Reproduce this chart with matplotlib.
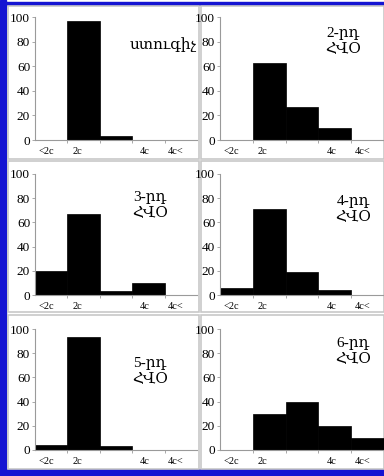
import matplotlib
matplotlib.use("Agg")
import matplotlib.pyplot as plt
from matplotlib.patches import Rectangle

# bins: <2c, 2c, (3c), 4c, 4c<
bin_labels = ["<2c", "2c", "4c", "4c<"]
label_pos = [0.35, 1.3, 3.4, 4.35]

control = [0, 97, 3, 0, 0]
gen2 = [0, 63, 27, 10, 0]
gen3 = [20, 67, 3, 10, 0]
gen4 = [6, 71, 19, 4, 0]
gen5 = [4, 93, 3, 0, 0]
gen6 = [0, 30, 40, 20, 10]

titles = ["ստուգիչ", "2-րդ\nՀՎՕ", "3-րդ\nՀՎՕ", "4-րդ\nՀՎՕ", "5-րդ\nՀՎՕ", "6-րդ\nՀՎՕ"]
series = [control, gen2, gen3, gen4, gen5, gen6]

serif = ["Liberation Serif", "DejaVu Serif"]
W, H = 384, 476

fig = plt.figure(figsize=(W / 100, H / 100), dpi=100)

# blue frame
fig.patches.append(Rectangle((0, 0), 6 / W, 1, transform=fig.transFigure, color="#1414d2", zorder=-2))
fig.patches.append(Rectangle((0, 1 - 5 / H), 1, 3 / H, transform=fig.transFigure, color="#1414d2", zorder=-2))
fig.patches.append(Rectangle((0, 0), 1, 7 / H, transform=fig.transFigure, color="#1414d2", zorder=-2))

# panel boxes (pixels from top-left)
col_px = [(8, 199), (201, 384)]
row_px = [(6, 159), (161, 312), (315, 469)]
for (ya, yb) in row_px:
    for (xa, xb) in col_px:
        fig.patches.append(Rectangle((xa / W, 1 - yb / H), (xb - xa) / W, (yb - ya) / H,
                                     transform=fig.transFigure, facecolor="white",
                                     edgecolor="#c8c8c8", lw=1.2, zorder=-1))

ax_left = [35, 220]
ax_width = [162, 164]
ax_rows = [(17, 140), (174, 295), (329, 450)]
text_xy = [(163, 45), (343, 42), (150, 206), (353, 209), (150, 372), (353, 352)]

for i, vals in enumerate(series):
    r, c = divmod(i, 2)
    top, bot = ax_rows[r]
    ax = fig.add_axes([ax_left[c] / W, 1 - bot / H, ax_width[c] / W, (bot - top) / H])
    ax.set_zorder(1)
    ax.bar(range(5), vals, width=1.0, align="edge", color="black", edgecolor="black", lw=0.5)
    ax.set_xlim(0, 5)
    ax.set_ylim(0, 100)
    ax.set_facecolor("none")
    for s in ["top", "right"]:
        ax.spines[s].set_visible(False)
    for s in ["left", "bottom"]:
        ax.spines[s].set_color("#9a9a9a")
        ax.spines[s].set_linewidth(0.8)
    ax.set_yticks([0, 20, 40, 60, 80, 100])
    ax.set_yticklabels(["0", "20", "40", "60", "80", "100"], family=serif, fontsize=9.5)
    ax.set_xticks([1, 2, 3, 4])
    ax.set_xticklabels([])
    ax.tick_params(axis="both", colors="#9a9a9a", length=2.5, width=0.6, labelcolor="black", pad=1)
    for lab, xp in zip(bin_labels, label_pos):
        ax.text(xp, -6, lab, ha="center", va="top", family=serif, fontsize=7.5)
    tx, ty = text_xy[i]
    fig.text(tx / W, 1 - ty / H, titles[i], ha="center", va="center", family=serif,
             fontsize=11, linespacing=1.3, zorder=2)

fig.savefig("out.png", dpi=100)
